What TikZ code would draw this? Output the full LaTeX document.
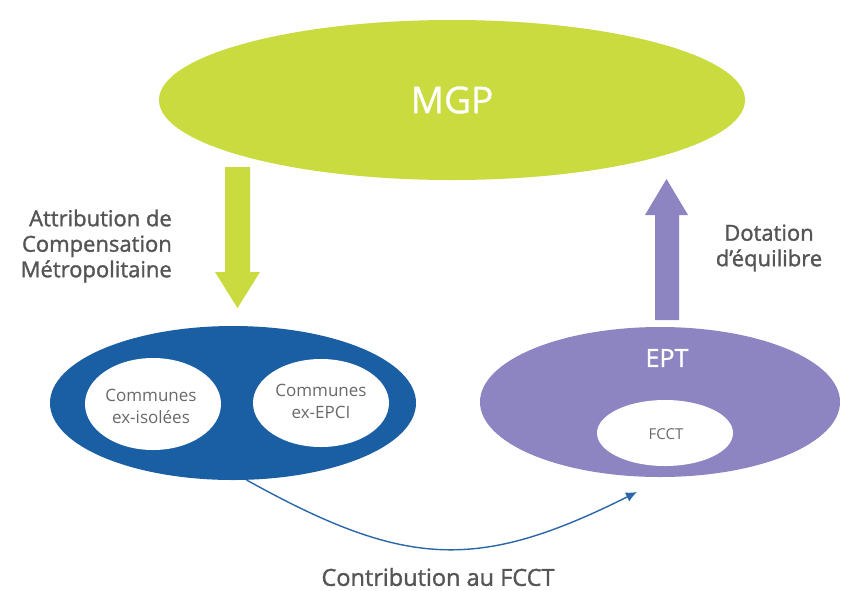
\documentclass[tikz,border=0pt]{standalone}
\usepackage{fontspec}
\setmainfont{Open Sans}
\newfontfamily\lblfont{Open Sans}[FakeBold=1.4]
\newfontfamily\midfont{Open Sans}[FakeBold=0.8]
\usetikzlibrary{arrows.meta,shapes.geometric}
\definecolor{mgpgreen}{HTML}{C9DB3F}
\definecolor{comblue}{HTML}{1A5FA3}
\definecolor{eptpurple}{HTML}{8C85C1}
\definecolor{labelgray}{HTML}{555555}
\definecolor{innergray}{HTML}{6A6A6A}
\definecolor{flowblue}{HTML}{2A66A8}
\tikzset{
  ell/.style={ellipse, draw=none, inner sep=0pt, align=center},
  whiteell/.style={ell, fill=white},
  innertxt/.style={text=innergray, font=\fontsize{17}{22}\selectfont, align=center, inner sep=0pt},
  lbl/.style={text=labelgray, font=\lblfont\fontsize{22}{25.5}\selectfont, inner sep=0pt},
  flow/.style={draw=flowblue, line width=1.4pt, -{Latex[length=11pt,width=10pt]}},
}
\begin{document}
\begin{tikzpicture}[x=1pt,y=-1pt]
\useasboundingbox (0,0) rectangle (842,590);
\fill[white] (0,0) rectangle (842,590);

% MGP
\node[ell, fill=mgpgreen, minimum width=586pt, minimum height=160pt, text=white,
  font=\midfont\fontsize{37}{40}\selectfont] (mgp) at (452,100) {MGP};

% fat arrows
\fill[mgpgreen] (225,167) -- (250,167) -- (250,272) -- (260,272) -- (237.5,308)
  -- (215,272) -- (225,272) -- cycle;
\fill[eptpurple] (655,320) -- (679,320) -- (679,215) -- (688,215) -- (666.5,179)
  -- (645,215) -- (655,215) -- cycle;

% Communes
\node[ell, fill=comblue, minimum width=366pt, minimum height=154pt] (com) at (233,403) {};
\node[whiteell, minimum width=136pt, minimum height=92pt] (iso) at (153,404) {};
\node[innertxt] (isotxt) at (151,406) {Communes\\ex-isolées};
\node[whiteell, minimum width=136pt, minimum height=88pt] (epci) at (321,403) {};
\node[innertxt] (epcitxt) at (321,401) {Communes\\ex-EPCI};

% EPT
\node[ell, fill=eptpurple, minimum width=360pt, minimum height=150pt] (ept) at (660,402) {};
\node[text=white, font=\midfont\fontsize{25}{28}\selectfont, inner sep=0pt] (epttxt) at (667,358) {EPT};
\node[whiteell, minimum width=136pt, minimum height=66pt] (fcct) at (665,433) {};
\node[innertxt, font=\fontsize{15}{18}\selectfont] (fccttxt) at (666,434) {FCCT};

% labels
\node[lbl, align=right, anchor=east] (attr) at (172,246)
  {Attribution de\\Compensation\\Métropolitaine};
\node[lbl, align=center] (dot) at (769,248) {Dotation\\d’équilibre};
\node[lbl, font=\lblfont\fontsize{23.5}{26}\selectfont] (contrib) at (438,577) {Contribution au FCCT};

% contribution flow
\coordinate (fin) at (637,492);
\draw[flow] (com.-80) .. controls (405,568) and (477,572) .. (fin);
\end{tikzpicture}
\end{document}
